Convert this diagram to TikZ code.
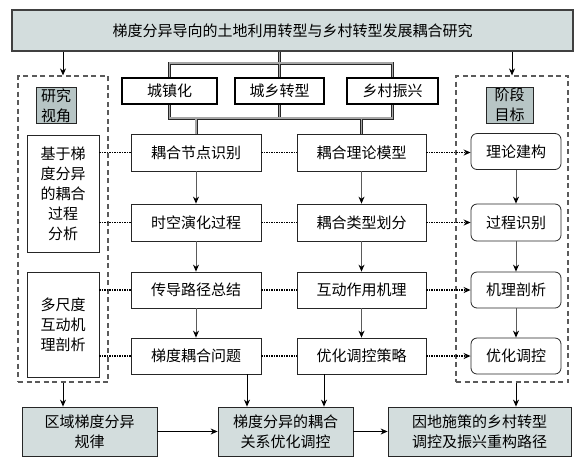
\documentclass[tikz,border=0pt]{standalone}
\usepackage{fontspec}
\setmainfont{Noto Sans CJK SC}
\usetikzlibrary{arrows.meta,backgrounds}
\definecolor{titlefill}{HTML}{D3DDDD}
\definecolor{labfill}{HTML}{B7C5C5}
\definecolor{linegray}{HTML}{5A5A5A}
\tikzset{
  base/.style={draw=black!85, fill=white, line width=0.8pt, inner sep=0pt, align=center,
    font=\fontsize{15}{20}\selectfont},
  titlebox/.style={base, fill=titlefill, draw=black!75, line width=1.6pt},
  topbox/.style={base, draw=black, line width=1.8pt},
  colbox/.style={base},
  rbox/.style={base, rounded corners=6pt},
  labbox/.style={base, fill=labfill},
  botbox/.style={base, fill=titlefill},
  dashbox/.style={draw=linegray, line width=1.2pt, dash pattern=on 5pt off 3.5pt},
  arr/.style={draw=black, line width=0.9pt, -{Stealth[length=7pt,width=6pt]}},
  garr/.style={draw=linegray, line width=0.9pt, -{Stealth[length=7pt,width=6pt,color=black]}},
  dotl/.style={draw=black, line width=1.2pt, dash pattern=on 1.5pt off 1pt},
  dotarr/.style={dotl, -{Stealth[length=7pt,width=6pt]}},
  outerlink/.style={draw=black!85, line width=3pt},
  innerlink/.style={draw=gray!70, line width=1.2pt},
}
\newcommand\mytoplinks[1]{%
  \draw[#1] (title.south -| t2.north) -- (t2.north);
  \draw[#1] (t1.north) -- (t1.north |- jt) -- (t3.north |- jt) -- (t3.north);
  \draw[#1] (t1.south) -- (t1.south |- jb) -- (t3.south |- jb) -- (t3.south);
  \draw[#1] (t2.south) -- (t2.south |- jb);
  \draw[#1] (c1.north |- jb) -- (c1.north);
  \draw[#1] (d1.north |- jb) -- (d1.north);
}
\begin{document}
\begin{tikzpicture}[x=1pt,y=-1pt]
\useasboundingbox (0,0) rectangle (588,467);
% dashed containers
\node[dashbox, minimum width=90pt, minimum height=306pt, inner sep=0pt] (ldash) at (63,229) {};
\node[dashbox, minimum width=112pt, minimum height=306pt, inner sep=0pt] (rdash) at (512,229) {};
% title
\node[titlebox, minimum width=561pt, minimum height=41pt] (title) at (292.5,30.5) {梯度分异导向的土地利用转型与乡村转型发展耦合研究};
% top boxes
\node[topbox, minimum width=95pt, minimum height=26pt] (t1) at (169.5,91) {城镇化};
\node[topbox, minimum width=89pt, minimum height=26pt] (t2) at (279.5,91) {城乡转型};
\node[topbox, minimum width=91pt, minimum height=26pt] (t3) at (392.5,91) {乡村振兴};
\coordinate (jt) at (0,63);
\coordinate (jb) at (0,118);
% labels
\node[labbox, minimum width=40pt, minimum height=36pt] (lab1) at (56,105.5) {研究\\视角};
\node[labbox, minimum width=47pt, minimum height=36pt] (lab2) at (509.5,105) {阶段\\目标};
% left boxes
\node[colbox, minimum width=72pt, minimum height=117pt] (lb1) at (63,193.5) {基于梯\\度分异\\的耦合\\过程\\分析};
\node[colbox, minimum width=72pt, minimum height=105pt] (lb2) at (63,324.5) {多尺度\\互动机\\理剖析};
% columns
\node[colbox, minimum width=130pt, minimum height=37pt] (c1) at (196,152.5) {耦合节点识别};
\node[colbox, minimum width=130pt, minimum height=37pt] (c2) at (196,222.5) {时空演化过程};
\node[colbox, minimum width=130pt, minimum height=36pt] (c3) at (196,290) {传导路径总结};
\node[colbox, minimum width=130pt, minimum height=36pt] (c4) at (196,356) {梯度耦合问题};
\node[colbox, minimum width=129pt, minimum height=37pt] (d1) at (361.5,152.5) {耦合理论模型};
\node[colbox, minimum width=129pt, minimum height=37pt] (d2) at (361.5,222.5) {耦合类型划分};
\node[colbox, minimum width=129pt, minimum height=36pt] (d3) at (361.5,290) {互动作用机理};
\node[colbox, minimum width=129pt, minimum height=36pt] (d4) at (361.5,356) {优化调控策略};
\node[rbox, minimum width=90pt, minimum height=36pt] (e1) at (516,151.5) {理论建构};
\node[rbox, minimum width=90pt, minimum height=37pt] (e2) at (516,222.5) {过程识别};
\node[rbox, minimum width=90pt, minimum height=36pt] (e3) at (516,290) {机理剖析};
\node[rbox, minimum width=90pt, minimum height=36pt] (e4) at (516,356) {优化调控};
% bottom boxes
\node[botbox, minimum width=135pt, minimum height=49pt] (b1) at (89.5,431.5) {区域梯度分异\\规律};
\node[botbox, minimum width=135pt, minimum height=49pt] (b2) at (285.5,431.5) {梯度分异的耦合\\关系优化调控};
\node[botbox, minimum width=183pt, minimum height=49pt] (b3) at (479.5,431.5) {因地施策的乡村转型\\调控及振兴重构路径};
% thick links (behind the boxes)
\begin{scope}[on background layer]
\mytoplinks{outerlink}
\mytoplinks{innerlink}
\end{scope}
% title arrows
\draw[arr] (title.south -| ldash.north) -- (ldash.north);
\draw[arr] (title.south -| rdash.north) -- (rdash.north);
% column arrows
\draw[garr] (c1) -- (c2);
\draw[garr] (c2) -- (c3);
\draw[garr] (c3) -- (c4);
\draw[garr] (d1) -- (d2);
\draw[garr] (d2) -- (d3);
\draw[garr] (d3) -- (d4);
\draw[garr] (e1) -- (e2);
\draw[garr] (e2) -- (e3);
\draw[garr] (e3) -- (e4);
% dotted links
\draw[dotl] (lb1.east |- c1) -- (c1.west);
\draw[dotl] (lb1.east |- c2) -- (c2.west);
\draw[dotl] (lb2.east |- c3) -- (c3.west);
\draw[dotl] (lb2.east |- c4) -- (c4.west);
\draw[dotl] (c1.east) -- (d1.west);
\draw[dotl] (c2.east) -- (d2.west);
\draw[dotl] (c3.east) -- (d3.west);
\draw[dotl] (c4.east) -- (d4.west);
\draw[dotarr] (d1.east) -- (e1.west |- d1.east);
\draw[dotarr] (d2.east) -- (e2.west |- d2.east);
\draw[dotarr] (d3.east) -- (e3.west |- d3.east);
\draw[dotarr] (d4.east) -- (e4.west |- d4.east);
% bottom arrows
\coordinate (xa) at (247,0);
\coordinate (xb) at (324,0);
\draw[arr] (ldash.south) -- (ldash.south |- b1.north);
\draw[arr] (c4.south -| xa) -- (b2.north -| xa);
\draw[arr] (d4.south -| xb) -- (b2.north -| xb);
\draw[arr] (e4.south |- rdash.south) -- (e4.south |- b3.north);
\draw[arr] (b1.east) -- (b2.west);
\draw[arr] (b2.east) -- (b3.west);
\end{tikzpicture}
\end{document}
